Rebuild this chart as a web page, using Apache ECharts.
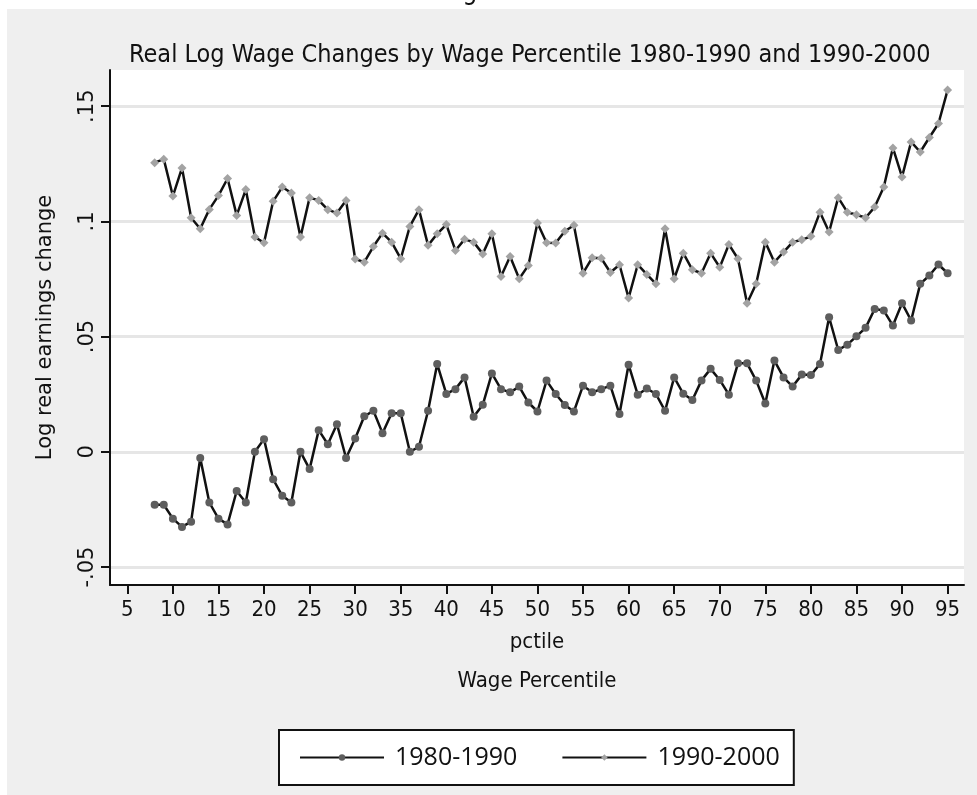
<!DOCTYPE html>
<html>
<head>
<meta charset="utf-8">
<script src="https://cdn.jsdelivr.net/npm/echarts@6/dist/echarts.min.js"></script>
<style>
  html, body { margin: 0; padding: 0; background: #fff; }
  #chart { width: 977px; height: 795px; }
</style>
</head>
<body>
<div id="chart"></div>
<script>
const pctile = [8, 9, 10, 11, 12, 13, 14, 15, 16, 17, 18, 19, 20, 21, 22, 23, 24, 25, 26, 27,
  28, 29, 30, 31, 32, 33, 34, 35, 36, 37, 38, 39, 40, 41, 42, 43, 44, 45, 46, 47,
  48, 49, 50, 51, 52, 53, 54, 55, 56, 57, 58, 59, 60, 61, 62, 63, 64, 65, 66, 67,
  68, 69, 70, 71, 72, 73, 74, 75, 76, 77, 78, 79, 80, 81, 82, 83, 84, 85, 86, 87,
  88, 89, 90, 91, 92, 93, 94, 95]

const change8090 = [-0.023, -0.023, -0.029, -0.0326, -0.0303, -0.0027, -0.022, -0.029, -0.0315, -0.017,
  -0.022, 0.000, 0.0055, -0.0119, -0.0191, -0.022, 0.000, -0.0075, 0.0094, 0.0033,
  0.012, -0.0027, 0.0058, 0.0154, 0.0178, 0.0081, 0.0167, 0.0167, 0.000, 0.0022,
  0.0178, 0.0381, 0.0251, 0.0272, 0.0323, 0.0152, 0.0204, 0.034, 0.0272, 0.0258,
  0.0283, 0.0214, 0.0175, 0.0309, 0.0251, 0.0203, 0.0175, 0.0287, 0.0258, 0.0272,
  0.0287, 0.0164, 0.0378, 0.0248, 0.0275, 0.0251, 0.0178, 0.0323, 0.0252, 0.0225,
  0.031, 0.036, 0.0312, 0.0248, 0.0384, 0.0384, 0.0309, 0.021, 0.0396, 0.0323,
  0.0283, 0.0335, 0.0333, 0.0381, 0.0584, 0.0442, 0.0465, 0.0501, 0.0538, 0.062,
  0.0613, 0.0548, 0.0645, 0.057, 0.0729, 0.0765, 0.0813, 0.0775]

const change9000 = [0.1255, 0.127, 0.111, 0.1232, 0.1016, 0.0968, 0.1052, 0.1112, 0.1186, 0.1026,
  0.1138, 0.0932, 0.0907, 0.1087, 0.1149, 0.1123, 0.0932, 0.1103, 0.1091, 0.1051,
  0.1036, 0.1091, 0.0837, 0.0823, 0.0891, 0.0949, 0.091, 0.0838, 0.0978, 0.1051,
  0.0896, 0.0946, 0.0986, 0.0874, 0.0922, 0.091, 0.0859, 0.0946, 0.0761, 0.0848,
  0.0751, 0.0809, 0.0993, 0.0907, 0.0906, 0.0957, 0.0983, 0.0775, 0.0842, 0.084,
  0.0778, 0.0812, 0.0668, 0.0812, 0.077, 0.0729, 0.0968, 0.0751, 0.0862, 0.079,
  0.0775, 0.0862, 0.0801, 0.09, 0.0838, 0.0645, 0.0729, 0.091, 0.0823, 0.0867,
  0.091, 0.092, 0.0935, 0.104, 0.0954, 0.1103, 0.104, 0.1029, 0.1016, 0.1062,
  0.1149, 0.1319, 0.1193, 0.1345, 0.1301, 0.1364, 0.1425, 0.157]

const xTicks = [5, 10, 15, 20, 25, 30, 35, 40, 45, 50, 55, 60, 65, 70, 75, 80, 85, 90, 95]
const yTicks = [-0.05, 0, 0.05, 0.1, 0.15]
const yTickLabels = ['-.05', '0', '.05', '.1', '.15']

const narrow = '"Liberation Sans Narrow", "DejaVu Sans Condensed", sans-serif'

const chart = echarts.init(document.getElementById('chart'))

function pairs (ys) {
  return pctile.map((p, i) => [p, ys[i]])
}

const option = {
  backgroundColor: '#fff',
  animation: false,
  textStyle: { fontFamily: 'DejaVu Sans' },
  graphic: [
    {
      type: 'rect',
      z: -10,
      shape: { x: 7, y: 9, width: 970, height: 786 },
      style: { fill: '#efefef' }
    },
    {
      type: 'rect',
      z: -9,
      shape: { x: 110, y: 70, width: 854, height: 515 },
      style: { fill: '#fff' }
    },
    {
      // cut-off letter at the very top of the page
      type: 'text',
      z: -11,
      style: {
        text: 'g',
        x: 470,
        y: 5,
        fill: '#111',
        font: '26px "DejaVu Sans Condensed", sans-serif',
        textAlign: 'center',
        textVerticalAlign: 'bottom'
      }
    },
    {
      type: 'text',
      style: {
        text: 'Wage Percentile',
        x: 537,
        y: 681,
        fill: '#111',
        font: '22px ' + narrow,
        textAlign: 'center',
        textVerticalAlign: 'middle'
      }
    }
  ],
  title: {
    text: 'Real Log Wage Changes by Wage Percentile 1980-1990 and 1990-2000',
    left: 124,
    top: 38,
    textStyle: {
      fontFamily: narrow,
      fontSize: 25,
      fontWeight: 'normal',
      color: '#111'
    }
  },
  legend: {
    left: 279,
    top: 730,
    width: 514,
    itemWidth: 84,
    itemHeight: 8,
    itemGap: 44,
    padding: [15, 14, 15, 20],
    backgroundColor: '#fff',
    borderColor: '#111',
    borderWidth: 2,
    borderRadius: 0,
    textStyle: { fontSize: 25, color: '#111', fontFamily: '"Open Sans", sans-serif', padding: [0, 0, 0, 6] },
    data: ['1980-1990', '1990-2000']
  },
  grid: {
    left: 110,
    right: 13,
    top: 70,
    bottom: 210
  },
  xAxis: {
    type: 'value',
    min: 3.1,
    max: 96.8,
    name: 'pctile',
    nameLocation: 'middle',
    nameGap: 46,
    nameTextStyle: {
      fontSize: 22,
      color: '#111',
      fontFamily: narrow
    },
    axisLine: { show: true, onZero: false, lineStyle: { color: '#111', width: 2 } },
    axisTick: { show: true, length: 9, customValues: xTicks, lineStyle: { color: '#111', width: 2 } },
    axisLabel: {
      customValues: xTicks,
      margin: 14,
      fontSize: 22,
      color: '#111',
      fontFamily: narrow
    },
    splitLine: { show: false }
  },
  yAxis: {
    type: 'value',
    min: -0.0578,
    max: 0.1657,
    name: 'Log real earnings change',
    nameLocation: 'middle',
    nameGap: 54,
    nameTextStyle: { fontSize: 21, color: '#111', fontFamily: 'DejaVu Sans' },
    axisLine: { show: true, onZero: false, lineStyle: { color: '#111', width: 2 } },
    axisTick: { show: true, length: 9, customValues: yTicks, lineStyle: { color: '#111', width: 2 } },
    axisLabel: {
      customValues: yTicks,
      rotate: 90,
      margin: 12,
      fontSize: 21,
      color: '#111',
      fontFamily: 'DejaVu Sans',
      formatter: v => {
        const i = yTicks.findIndex(t => Math.abs(t - v) < 1e-9)
        return i >= 0 ? yTickLabels[i] : ''
      }
    },
    splitLine: { show: true, lineStyle: { color: '#e6e6e6', width: 3 } }
  },
  series: [
    {
      name: '1980-1990',
      type: 'line',
      data: pairs(change8090),
      symbol: 'circle',
      symbolSize: 8,
      itemStyle: { color: '#5e5e5e' },
      lineStyle: { color: '#111', width: 2.5 }
    },
    {
      name: '1990-2000',
      type: 'line',
      data: pairs(change9000),
      symbol: 'diamond',
      symbolSize: 9,
      itemStyle: { color: '#a3a3a3' },
      lineStyle: { color: '#111', width: 2.5 }
    }
  ]
}

chart.setOption(option)
</script>
</body>
</html>
